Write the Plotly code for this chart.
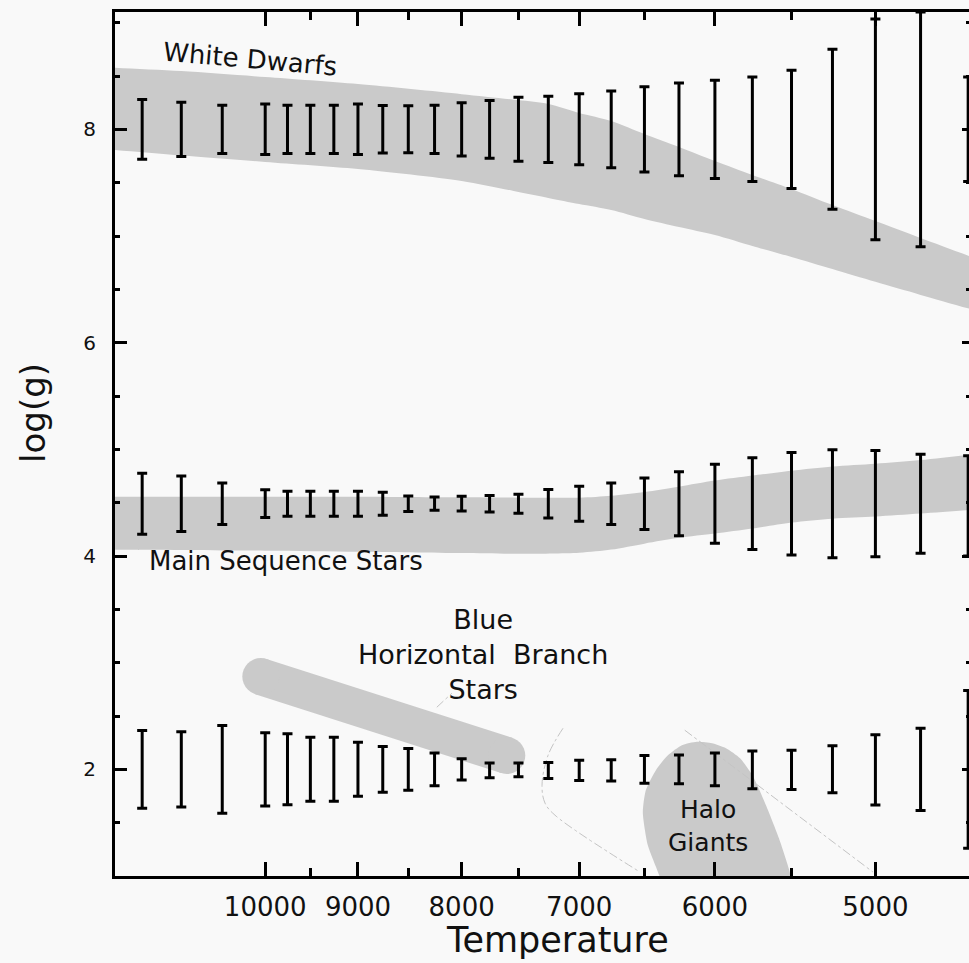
import plotly.graph_objects as go

# ---------------- data ----------------
temps = [11500, 11000, 10500, 10000, 9750, 9500, 9250, 9000, 8750, 8500, 8250, 8000,
         7750, 7500, 7250, 7000, 6750, 6500, 6250, 6000, 5750, 5500, 5250, 5000, 4750, 4500]

wd_logg = [8.0, 8.0, 8.0, 8.0, 8.0, 8.0, 8.0, 8.0, 8.0, 8.0, 8.0, 8.0, 8.0,
           8.0, 8.0, 8.0, 8.0, 8.0, 8.0, 8.0, 8.0, 8.0, 8.0, 8.0, 8.0, 8.0]
wd_err = [0.28, 0.255, 0.226, 0.237, 0.226, 0.226, 0.226, 0.237, 0.223, 0.22, 0.226, 0.25,
          0.27, 0.30, 0.31, 0.333, 0.36, 0.40, 0.435, 0.46, 0.49, 0.554, 0.75, 1.035, 1.10, 0.49]

ms_logg = [4.49, 4.49, 4.49, 4.49, 4.49, 4.49, 4.49, 4.49, 4.49, 4.49, 4.49, 4.49, 4.49,
           4.49, 4.49, 4.49, 4.49, 4.49, 4.49, 4.49, 4.49, 4.49, 4.49, 4.49, 4.49, 4.47]
ms_err = [0.286, 0.26, 0.195, 0.13, 0.117, 0.117, 0.117, 0.117, 0.107, 0.072, 0.062, 0.069,
          0.078, 0.09, 0.133, 0.164, 0.194, 0.242, 0.301, 0.37, 0.43, 0.48, 0.507, 0.498, 0.464, 0.47]

gi_logg = [2.0, 2.0, 2.0, 2.0, 2.0, 2.0, 2.0, 2.0, 2.0, 2.0, 2.0, 2.0, 1.99,
           1.995, 1.99, 1.99, 1.99, 2.0, 2.0, 2.0, 1.995, 1.995, 2.0, 1.995, 2.0, 2.0]
gi_err = [0.365, 0.353, 0.412, 0.344, 0.333, 0.30, 0.30, 0.253, 0.214, 0.195, 0.153, 0.10,
          0.07, 0.065, 0.075, 0.094, 0.10, 0.13, 0.135, 0.153, 0.178, 0.185, 0.22, 0.33, 0.385, 0.74]

# White dwarf band
wd_band_T = [12500, 12000, 11000, 10000, 9000, 8000, 7500, 7250, 7000, 6750, 6500, 6250, 6000,
             5750, 5500, 5250, 5000, 4750, 4400, 4300]
wd_band_hi = [8.61, 8.583, 8.546, 8.49, 8.424, 8.33, 8.274, 8.237, 8.153, 8.078, 7.956, 7.834, 7.703,
              7.572, 7.441, 7.29, 7.14, 6.982, 6.748, 6.68]
wd_band_lo = [7.85, 7.815, 7.755, 7.694, 7.628, 7.516, 7.413, 7.357, 7.30, 7.244, 7.16, 7.085, 7.01,
              6.907, 6.804, 6.69, 6.57, 6.448, 6.27, 6.22]

# Main sequence band
ms_band_T = [12500, 12000, 10000, 9000, 8000, 7500, 7000, 6750, 6500, 6250, 6000, 5750, 5500,
             5250, 5000, 4750, 4400, 4300]
ms_band_hi = [4.556, 4.556, 4.556, 4.556, 4.55, 4.547, 4.547, 4.565, 4.60, 4.65, 4.707, 4.754, 4.80,
              4.84, 4.866, 4.90, 4.97, 4.99]
ms_band_lo = [4.06, 4.06, 4.05, 4.04, 4.027, 4.02, 4.03, 4.06, 4.116, 4.17, 4.21, 4.257, 4.313,
              4.35, 4.37, 4.398, 4.445, 4.46]

# Blue horizontal branch (thick rounded stroke)
bhb_T = [10050, 7600]
bhb_logg = [2.87, 2.13]

# Halo giants region
halo_T = [6372, 6387, 6475, 6512, 6490, 6416, 6329, 6229, 6124, 6020, 5925, 5831, 5746,
          5662, 5579, 5497, 5497]
halo_logg = [0.868, 0.99, 1.289, 1.598, 1.804, 1.992, 2.132, 2.226, 2.258, 2.244, 2.198,
             2.104, 1.935, 1.664, 1.355, 0.962, 0.868]

# faint guide lines
outline_T = [7130, 7252, 7302, 7277, 7195, 6533]
outline_logg = [2.385, 2.132, 1.851, 1.683, 1.570, 1.037]
diag_T = [6209, 5014]
diag_logg = [2.367, 1.037]
leader_T = [8229, 8090]
leader_logg = [2.582, 2.713]

x_tick_vals = [10000, 9000, 8000, 7000, 6000, 5000]
x_tick_text = ["10000", "9000", "8000", "7000", "6000", "5000"]
x_minor_vals = [9500, 8500, 7500, 6500, 5500]
y_tick_vals = [2, 4, 6, 8]
y_tick_text = ["2", "4", "6", "8"]
y_minor_vals = [1.5, 2.5, 3, 3.5, 4.5, 5, 5.5, 6.5, 7, 7.5, 8.5, 9]

BAND = "#CACACA"
BG = "#F9F9F9"
FONT = "DejaVu Sans"

fig = go.Figure()

# bands
fig.add_trace(go.Scatter(x=wd_band_T + wd_band_T[::-1], y=wd_band_hi + wd_band_lo[::-1],
                         fill="toself", fillcolor=BAND,
                         line=dict(width=0, color=BAND, shape="spline", smoothing=0.8),
                         mode="lines", hoverinfo="skip"))
fig.add_trace(go.Scatter(x=ms_band_T + ms_band_T[::-1], y=ms_band_hi + ms_band_lo[::-1],
                         fill="toself", fillcolor=BAND,
                         line=dict(width=0, color=BAND, shape="spline", smoothing=0.8),
                         mode="lines", hoverinfo="skip"))
fig.add_trace(go.Scatter(x=halo_T, y=halo_logg, fill="toself", fillcolor=BAND,
                         line=dict(width=0, color=BAND, shape="spline", smoothing=0.6),
                         mode="lines", hoverinfo="skip"))
fig.add_trace(go.Scatter(x=bhb_T, y=bhb_logg, mode="lines+markers",
                         line=dict(width=37, color=BAND),
                         marker=dict(size=37, color=BAND, line=dict(width=0)),
                         hoverinfo="skip"))

# faint guide lines
for gx, gy in [(outline_T, outline_logg), (diag_T, diag_logg), (leader_T, leader_logg)]:
    fig.add_trace(go.Scatter(x=gx, y=gy, mode="lines",
                             line=dict(width=1, color="#C4C4C4", dash="dashdot", shape="spline"),
                             hoverinfo="skip"))

# error bars
for yy, ee in [(wd_logg, wd_err), (ms_logg, ms_err), (gi_logg, gi_err)]:
    fig.add_trace(go.Scatter(x=temps, y=yy, mode="markers",
                             marker=dict(size=1, color="rgba(0,0,0,0)"),
                             error_y=dict(type="data", array=ee, visible=True,
                                          thickness=3, width=5, color="black"),
                             hoverinfo="skip"))

# dummy trace for right-side ticks
fig.add_trace(go.Scatter(x=[7000], y=[5], yaxis="y2", mode="markers",
                         marker=dict(size=1, color="rgba(0,0,0,0)"), hoverinfo="skip"))

fig.update_layout(
    width=969, height=963,
    margin=dict(l=115, r=0, t=12, b=87),
    paper_bgcolor=BG, plot_bgcolor=BG,
    showlegend=False,
    font=dict(family=FONT, color="#111111"),
    xaxis=dict(type="log", range=[4.0741, 3.6528],
               tickmode="array", tickvals=x_tick_vals, ticktext=x_tick_text,
               ticks="inside", ticklen=14, tickwidth=3, tickcolor="black",
               showline=True, linewidth=3, linecolor="black", mirror="ticks",
               showgrid=False, zeroline=False,
               tickfont=dict(family=FONT, size=26, color="#111111"),
               ticklabelstandoff=6,
               minor=dict(tickvals=x_minor_vals, ticks="inside", ticklen=8,
                          tickwidth=3, tickcolor="black", showgrid=False)),
    yaxis=dict(range=[1.0, 9.1],
               tickmode="array", tickvals=y_tick_vals, ticktext=y_tick_text,
               ticks="inside", ticklen=12, tickwidth=3, tickcolor="black",
               showline=True, linewidth=3, linecolor="black",
               showgrid=False, zeroline=False,
               tickfont=dict(family=FONT, size=20, color="#111111"),
               ticklabelstandoff=12,
               minor=dict(tickvals=y_minor_vals, ticks="inside", ticklen=5,
                          tickwidth=3, tickcolor="black", showgrid=False)),
    yaxis2=dict(range=[1.0, 9.1], overlaying="y", side="right", anchor="x",
                tickmode="array", tickvals=y_tick_vals, showticklabels=False,
                ticks="inside", ticklen=7, tickwidth=3, tickcolor="black",
                showline=False, showgrid=False, zeroline=False,
                minor=dict(tickvals=y_minor_vals, ticks="inside", ticklen=3,
                           tickwidth=3, tickcolor="black", showgrid=False)),
    annotations=[
        dict(text="log(g)", xref="paper", yref="paper", x=-0.096, y=0.536,
             textangle=-90, showarrow=False, xanchor="center", yanchor="middle",
             font=dict(family=FONT, size=34, color="#111111")),
        dict(text="Temperature", xref="paper", yref="paper", x=0.5176, y=-0.0741,
             showarrow=False, xanchor="center", yanchor="middle",
             font=dict(family=FONT, size=35, color="#111111")),
        dict(text="White Dwarfs", xref="paper", yref="paper", x=0.158, y=0.9456,
             textangle=5, showarrow=False, xanchor="center", yanchor="middle",
             font=dict(family=FONT, size=26, color="#111111")),
        dict(text="Main Sequence Stars", xref="paper", yref="paper", x=0.0375, y=0.3646,
             showarrow=False, xanchor="left", yanchor="middle",
             font=dict(family=FONT, size=26, color="#111111")),
        dict(text="Blue<br>Horizontal\u00a0 Branch<br>Stars", xref="paper", yref="paper",
             x=0.4309, y=0.2558, showarrow=False, xanchor="center", yanchor="middle",
             align="center", font=dict(family=FONT, size=27, color="#111111")),
        dict(text="Halo<br>Giants", xref="paper", yref="paper", x=0.6944, y=0.0573,
             showarrow=False, xanchor="center", yanchor="middle", align="center",
             font=dict(family=FONT, size=25, color="#111111")),
    ],
)

fig.write_html("out.html")
